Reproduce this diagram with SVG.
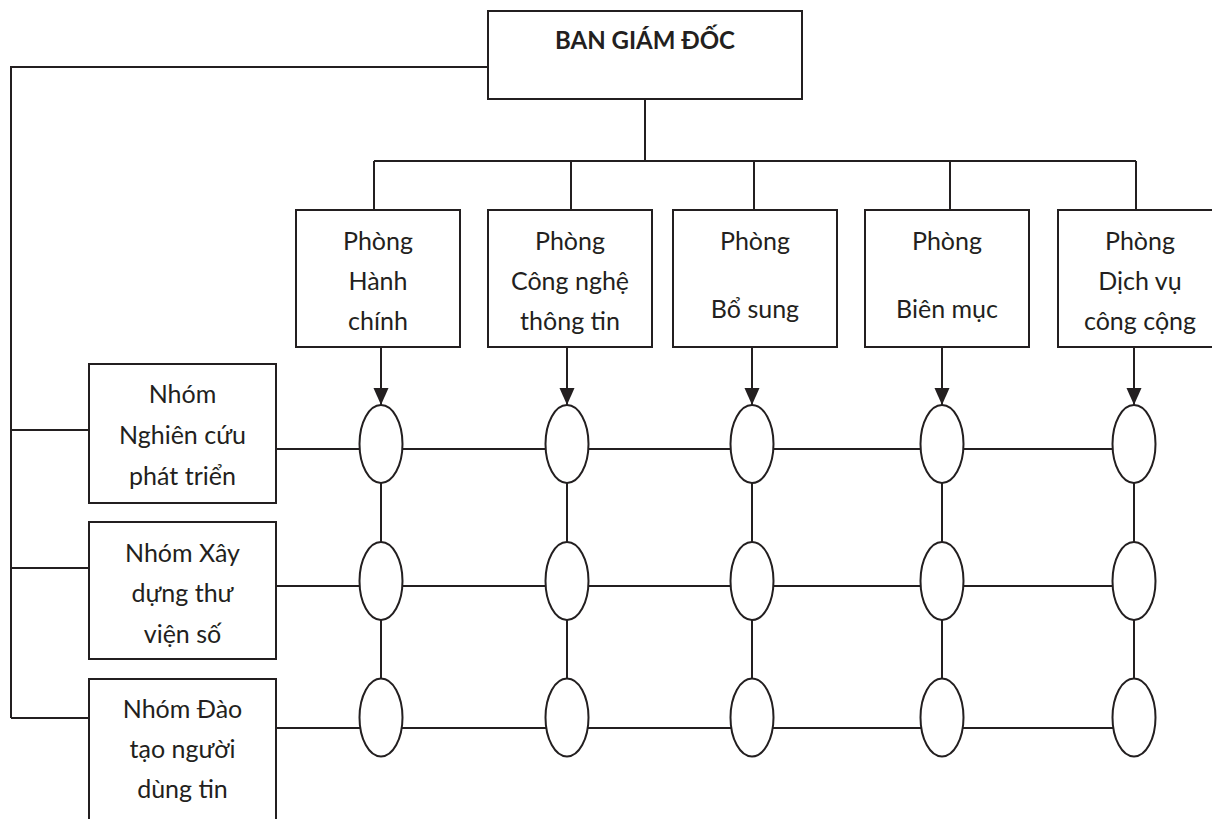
<svg xmlns="http://www.w3.org/2000/svg" width="1212" height="819" viewBox="0 0 1212 819">
<defs>
<style>
.box{fill:#fff;stroke:#231f20;stroke-width:2}
.ln{fill:none;stroke:#231f20;stroke-width:2}
.el{fill:#fff;stroke:#231f20;stroke-width:2}
.t{font-family:Lato,"Open Sans",sans-serif;font-size:25px;fill:#231f20;text-anchor:middle}
.tb{font-family:Lato,"Open Sans",sans-serif;font-size:24px;font-weight:bold;fill:#231f20;text-anchor:middle}
</style>
<marker id="arr" markerUnits="userSpaceOnUse" markerWidth="18" markerHeight="18" viewBox="0 0 18 18" refX="17" refY="9" orient="auto">
<path d="M0,1.5 L17,9 L0,16.5 Z" fill="#231f20"/>
</marker>
</defs>
<rect width="1212" height="819" fill="#fff"/>
<g id="connectors">
<path class="ln" d="M488,67 H11 V718"/>
<path class="ln" d="M11,430 H89 M11,568 H89 M11,718 H89"/>
<path class="ln" d="M645,99 V161 M374,161 H1136 M374,161 V210 M571,161 V210 M754,161 V210 M950,161 V210 M1136,161 V210"/>
<line class="ln" x1="381" y1="347" x2="381" y2="405" marker-end="url(#arr)"/>
<line class="ln" x1="567" y1="347" x2="567" y2="405" marker-end="url(#arr)"/>
<line class="ln" x1="752" y1="347" x2="752" y2="405" marker-end="url(#arr)"/>
<line class="ln" x1="942" y1="347" x2="942" y2="405" marker-end="url(#arr)"/>
<line class="ln" x1="1134" y1="347" x2="1134" y2="405" marker-end="url(#arr)"/>
<path class="ln" d="M276,449 H1113 M276,586 H1113 M276,728 H1113"/>
<path class="ln" d="M381,483 V678 M567,483 V678 M752,483 V678 M942,483 V678 M1134,483 V678"/>
</g>
<g id="ban-giam-doc">
<rect class="box" x="488" y="11" width="314" height="88"/>
<text class="tb" x="645" y="49">BAN GIÁM ĐỐC</text>
</g>
<g id="phong-hanh-chinh">
<rect class="box" x="296" y="210" width="164" height="137"/>
<text class="t" x="378" y="250">Phòng</text>
<text class="t" x="378" y="290">Hành</text>
<text class="t" x="378" y="330">chính</text>
</g>
<g id="phong-cntt">
<rect class="box" x="488" y="210" width="164" height="137"/>
<text class="t" x="570" y="250">Phòng</text>
<text class="t" x="570" y="290">Công nghệ</text>
<text class="t" x="570" y="330">thông tin</text>
</g>
<g id="phong-bo-sung">
<rect class="box" x="673" y="210" width="164" height="137"/>
<text class="t" x="755" y="250">Phòng</text>
<text class="t" x="755" y="318">Bổ sung</text>
</g>
<g id="phong-bien-muc">
<rect class="box" x="865" y="210" width="164" height="137"/>
<text class="t" x="947" y="250">Phòng</text>
<text class="t" x="947" y="318">Biên mục</text>
</g>
<g id="phong-dich-vu">
<rect class="box" x="1058" y="210" width="164" height="137"/>
<text class="t" x="1140" y="250">Phòng</text>
<text class="t" x="1140" y="290">Dịch vụ</text>
<text class="t" x="1140" y="330">công cộng</text>
</g>
<g id="nhom-nghien-cuu">
<rect class="box" x="89" y="364" width="187" height="139"/>
<text class="t" x="182.5" y="403">Nhóm</text>
<text class="t" x="182.5" y="444">Nghiên cứu</text>
<text class="t" x="182.5" y="485">phát triển</text>
</g>
<g id="nhom-xay-dung">
<rect class="box" x="89" y="522" width="187" height="137"/>
<text class="t" x="182.5" y="562">Nhóm Xây</text>
<text class="t" x="182.5" y="602">dựng thư</text>
<text class="t" x="182.5" y="643">viện số</text>
</g>
<g id="nhom-dao-tao">
<rect class="box" x="89" y="679" width="187" height="160"/>
<text class="t" x="182.5" y="718">Nhóm Đào</text>
<text class="t" x="182.5" y="758">tạo người</text>
<text class="t" x="182.5" y="798">dùng tin</text>
</g>
<g id="nodes-row1">
<ellipse class="el" cx="381" cy="444" rx="21.5" ry="39"/>
<ellipse class="el" cx="567" cy="444" rx="21.5" ry="39"/>
<ellipse class="el" cx="752" cy="444" rx="21.5" ry="39"/>
<ellipse class="el" cx="942" cy="444" rx="21.5" ry="39"/>
<ellipse class="el" cx="1134" cy="444" rx="21.5" ry="39"/>
</g>
<g id="nodes-row2">
<ellipse class="el" cx="381" cy="581" rx="21.5" ry="39"/>
<ellipse class="el" cx="567" cy="581" rx="21.5" ry="39"/>
<ellipse class="el" cx="752" cy="581" rx="21.5" ry="39"/>
<ellipse class="el" cx="942" cy="581" rx="21.5" ry="39"/>
<ellipse class="el" cx="1134" cy="581" rx="21.5" ry="39"/>
</g>
<g id="nodes-row3">
<ellipse class="el" cx="381" cy="717.5" rx="21.5" ry="39"/>
<ellipse class="el" cx="567" cy="717.5" rx="21.5" ry="39"/>
<ellipse class="el" cx="752" cy="717.5" rx="21.5" ry="39"/>
<ellipse class="el" cx="942" cy="717.5" rx="21.5" ry="39"/>
<ellipse class="el" cx="1134" cy="717.5" rx="21.5" ry="39"/>
</g>
</svg>
